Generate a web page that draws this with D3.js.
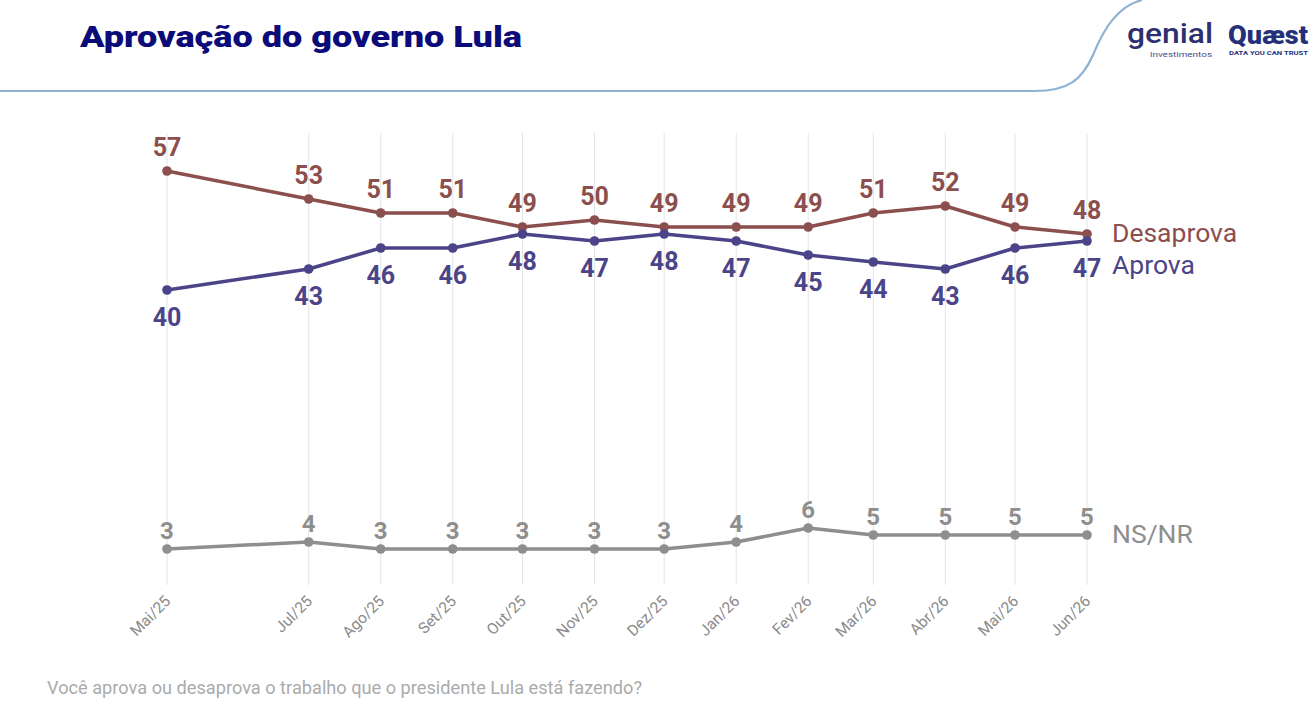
<!DOCTYPE html>
<html><head><meta charset="utf-8">
<script src="https://cdn.jsdelivr.net/npm/d3@7"></script>
<style>
html,body{margin:0;padding:0;background:#fff;}
svg{display:block;font-family:Roboto,"Open Sans",sans-serif;}
</style></head>
<body>
<svg id="chart" width="1315" height="714"></svg>
<script>
const months = ["2025-05-01","2025-07-01","2025-08-01","2025-09-01","2025-10-01","2025-11-01","2025-12-01","2026-01-01","2026-02-01","2026-03-01","2026-04-01","2026-05-01","2026-06-01"];
const tickLabels = ["Mai/25","Jul/25","Ago/25","Set/25","Out/25","Nov/25","Dez/25","Jan/26","Fev/26","Mar/26","Abr/26","Mai/26","Jun/26"];
const desaprova = [57,53,51,51,49,50,49,49,49,51,52,49,48];
const aprova = [40,43,46,46,48,47,48,47,45,44,43,46,47];
const nsnr = [3,4,3,3,3,3,3,4,6,5,5,5,5];
const seriesNames = ["Desaprova","Aprova","NS/NR"];
const colors = ["#8b4f4d","#4b4488","#8e8e8e"];

const svg = d3.select("#chart");
const parse = d3.timeParse("%Y-%m-%d");
const dates = months.map(parse);

const x = d3.scaleTime().domain([dates[0], dates[dates.length-1]]).range([167,1087]);
const y = d3.scaleLinear().domain([0,60]).range([570,150]);

// header
svg.append("path")
  .attr("d","M0,91 L1035,91 C1068,91 1082,80 1093,55 C1104,28 1118,6 1142,0")
  .attr("fill","none").attr("stroke","#8db2d3").attr("stroke-width",2.2);
svg.append("text").attr("x",80).attr("y",47).attr("font-size",30).attr("font-weight",900)
  .attr("fill","#0b0b7a").attr("font-family","Roboto").attr("textLength",442).attr("lengthAdjust","spacingAndGlyphs")
  .text("Aprovação do governo Lula");
// logos
svg.append("text").attr("x",1127).attr("y",43).attr("font-size",28).attr("font-family","Roboto").attr("font-weight",500)
  .attr("fill","#2c2f70").attr("textLength",86).attr("lengthAdjust","spacingAndGlyphs").text("genial");
svg.append("text").attr("x",1150).attr("y",57).attr("font-size",7.5).attr("font-family","Roboto")
  .attr("fill","#4a4d86").attr("textLength",62).attr("lengthAdjust","spacingAndGlyphs").text("investimentos");
svg.append("text").attr("x",1228).attr("y",44).attr("font-size",25).attr("font-family","Roboto").attr("font-weight",900)
  .attr("fill","#25307a").attr("textLength",80).attr("lengthAdjust","spacingAndGlyphs").text("Quæst");
svg.append("text").attr("x",1229).attr("y",55).attr("font-size",6).attr("font-family","Roboto").attr("font-weight",700)
  .attr("fill","#25307a").attr("textLength",79).attr("lengthAdjust","spacingAndGlyphs").text("DATA YOU CAN TRUST");

// grid lines
svg.append("g").selectAll("line").data(dates).join("line")
  .attr("x1",d=>x(d)).attr("x2",d=>x(d)).attr("y1",133).attr("y2",585)
  .attr("stroke","#e4e4e4").attr("stroke-width",1);

// x axis labels
const xAxis = d3.axisBottom(x).tickValues(dates).tickSize(0).tickFormat((d,i)=>tickLabels[i]);
const ax = svg.append("g").attr("transform","translate(0,590)").call(xAxis);
ax.select(".domain").remove();
ax.selectAll("text")
  .attr("fill","#8a8a8a").attr("font-size",15.5).attr("font-family","Roboto")
  .attr("text-anchor","end").attr("dy",0).attr("dx",0).attr("y",0)
  .attr("transform","translate(4,12) rotate(-45)");

const allSeries = [desaprova, aprova, nsnr];
const line = d3.line().x((d,i)=>x(dates[i])).y(d=>y(d));
const labelOffset = [-15, 36, -10];
const nameY = [242, 274, 543];

allSeries.forEach((vals,s)=>{
  const g = svg.append("g");
  g.append("path").datum(vals).attr("d",line).attr("fill","none")
    .attr("stroke",colors[s]).attr("stroke-width",3.5).attr("stroke-linejoin","round");
  g.selectAll("circle").data(vals).join("circle")
    .attr("cx",(d,i)=>x(dates[i])).attr("cy",d=>y(d)).attr("r",4.8).attr("fill",colors[s]);
  g.selectAll("text.v").data(vals).join("text").attr("class","v")
    .attr("x",(d,i)=>x(dates[i])).attr("y",d=>y(d)+labelOffset[s])
    .attr("text-anchor","middle").attr("font-size",s===2?24:25).attr("font-weight",700)
    .attr("font-family","Roboto").attr("fill",colors[s]).text(d=>d);
  g.append("text").attr("x",1112).attr("y",nameY[s]).attr("font-size",26.5)
    .attr("font-family","Roboto").attr("fill",colors[s]).text(seriesNames[s]);
});

svg.append("text").attr("x",47).attr("y",694).attr("font-size",18.2).attr("font-family","Roboto")
  .attr("fill","#ababab").text("Você aprova ou desaprova o trabalho que o presidente Lula está fazendo?");
</script>
</body></html>
